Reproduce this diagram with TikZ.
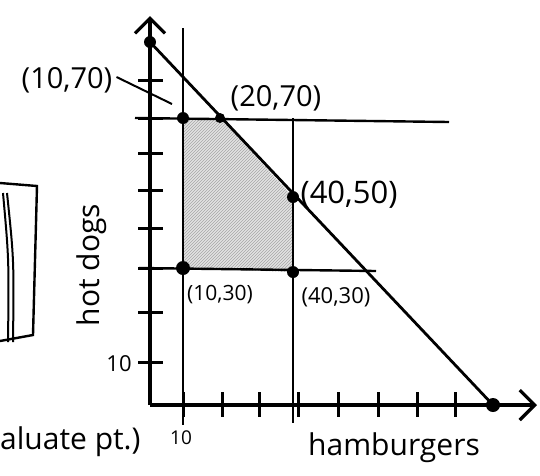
\documentclass[tikz,border=0pt]{standalone}
\usepackage{fontspec}
\setmainfont{Open Sans}
\usetikzlibrary{arrows.meta,patterns}
\begin{document}
\begin{tikzpicture}[x=1pt,y=-1pt,
  axisline/.style={line width=4.6pt},
  cline/.style={line width=2.4pt},
  tickline/.style={line width=3pt},
  dot/.style={circle,fill=black,inner sep=0pt,minimum size=12pt},
  lbl/.style={inner sep=0pt,font=\fontsize{#1}{#1}\selectfont},
  barb/.style={-{Straight Barb[length=15pt,width=30pt,line width=3.2pt]}}
]
\useasboundingbox (0,0) rectangle (540,475);
% key points
\coordinate (O) at (150,405);
\coordinate (ytop) at (150,16);
\coordinate (xend) at (537,405);
\coordinate (A) at (150,42);
\coordinate (B) at (493,405);
\coordinate (P1) at (183,118);
\coordinate (P2) at (220,118);
\coordinate (P3) at (293,197);
\coordinate (P4) at (293,272);
\coordinate (P5) at (183,268);
% feasible region
\fill[gray!22] (P1)--(P2)--(P3)--(P4)--(P5)--cycle;
\fill[pattern=north east lines,pattern color=gray!70] (P1)--(P2)--(P3)--(P4)--(P5)--cycle;
% constraint lines
\coordinate (v1t) at (183,28); \coordinate (v1b) at (183,425);
\coordinate (v2t) at (293,118); \coordinate (v2b) at (293,423);
\coordinate (h1l) at (135,118); \coordinate (h1r) at (449,122);
\coordinate (h2l) at (139,268); \coordinate (h2r) at (376,271);
\draw[cline] (v1t)--(v1b);
\draw[cline] (v2t)--(v2b);
\draw[cline] (h1l)--(h1r);
\draw[cline] (h2l)--(h2r);
\draw[line width=2.8pt] (A)--(B);
% axes
\draw[axisline,barb] (O)--(ytop);
\draw[axisline,barb] (O)--(xend);
% ticks
\foreach \y in {80,118,153,190,228,268,312,362}
  \draw[tickline] (138,\y)--(163,\y);
\foreach \x in {183,222,259,298,338,378,417,455}
  \draw[tickline] (\x,392)--(\x,417);
% dots
\node[dot] (dA) at (A) {};
\node[dot,minimum size=14pt] (dB) at (B) {};
\node[dot] (d1) at (P1) {};
\node[dot,minimum size=10pt] (d2) at (P2) {};
\node[dot] (d3) at (P3) {};
\node[dot,minimum size=14pt] (d5) at (P5) {};
\node[dot] (d4) at (P4) {};
% labels
\node[lbl=29] (l1) at (67,80) {(10,70)};
\coordinate (lead) at (172,104);
\draw[line width=2pt] (l1.east)++(4,-3) coordinate (leadS) (leadS)--(lead);
\node[lbl=29] (l2) at (276,98) {(20,70)};
\node[lbl=31] (l3) at (349,195) {(40,50)};
\node[lbl=21] (l4) at (220,295) {(10,30)};
\node[lbl=22] (l5) at (336,297) {(40,30)};
\node[lbl=22] (ty) at (119,364) {10};
\node[lbl=19] (tx) at (181,438) {10};
\node[lbl=30,rotate=90] (hd) at (92,265) {hot dogs};
\node[lbl=30] (hb) at (394,448) {hamburgers};
\node[lbl=30,anchor=west] (ev) at (0,442) {aluate pt.)};
% partial box at left edge
\draw[line width=2.4pt] (0,183)--(37,186)--(33,335)--(0,341);
\draw[line width=2pt] (3,193) .. controls (9,260) .. (8,342);
\draw[line width=2pt] (7,193) .. controls (14,260) .. (13,342);
\end{tikzpicture}
\end{document}
